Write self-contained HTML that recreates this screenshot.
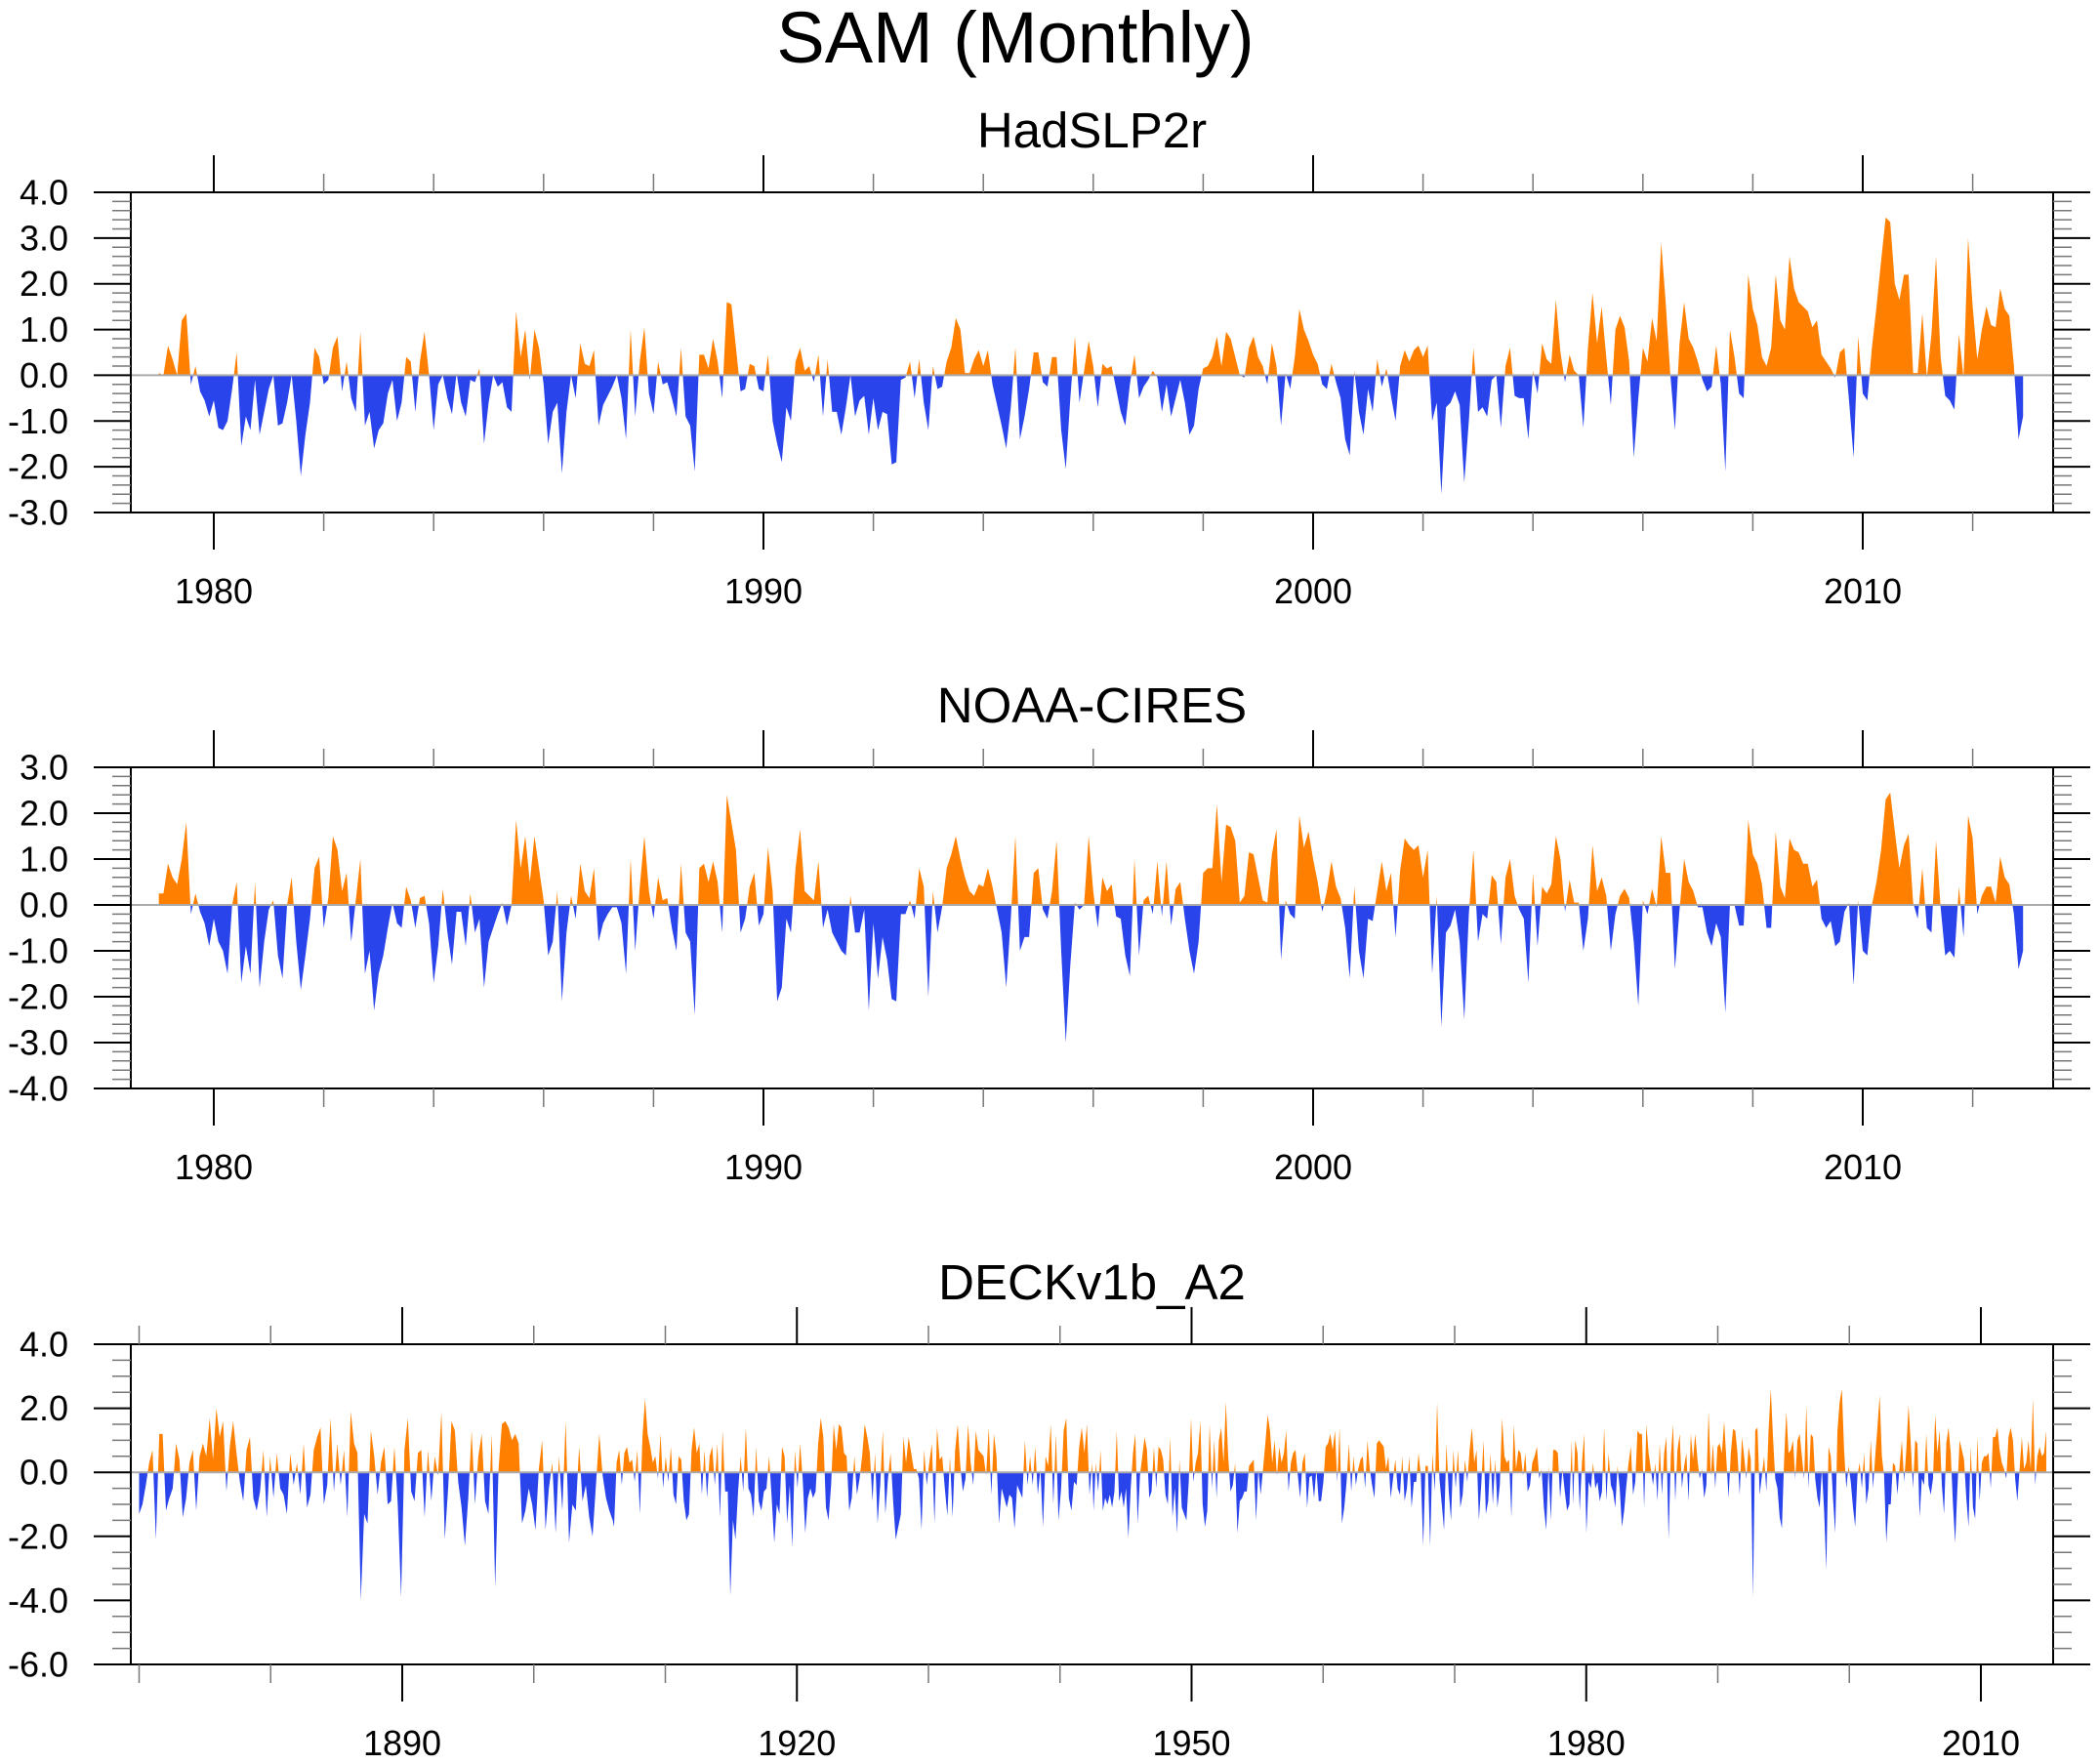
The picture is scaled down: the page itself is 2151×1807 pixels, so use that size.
<!DOCTYPE html>
<html><head><meta charset="utf-8"><title>SAM (Monthly)</title>
<style>
html,body{margin:0;padding:0;background:#fff;}
svg{display:block;}
text{font-family:"Liberation Sans",Arial,sans-serif;fill:#000;}
</style></head>
<body>
<svg id="chart" width="2151" height="1807" viewBox="0 0 2151 1807" xmlns="http://www.w3.org/2000/svg">
<rect x="0" y="0" width="2151" height="1807" fill="#fff"/>
<text x="1040" y="64" font-size="74" text-anchor="middle">SAM (Monthly)</text>
</svg>
<script>
// ---------- Data ----------
const hadStart = 1979.0;
const hadValues = [
0.05,0,0.65,0.35,0,1.2,1.35,-0.2,0.2,-0.35,
-0.55,-0.9,-0.55,-1.15,-1.2,-1.0,-0.3,0.5,-1.55,-0.9,
-1.2,-0.1,-1.3,-0.8,-0.3,0,-1.1,-1.05,-0.6,0,
-1.0,-2.2,-1.3,-0.6,0.6,0.4,-0.2,-0.1,0.6,0.85,
-0.35,0.3,-0.5,-0.8,0.95,-1.1,-0.8,-1.6,-1.2,-1.05,
-0.4,-0.1,-1.0,-0.6,0.4,0.3,-0.8,0.3,0.95,0,
-1.2,-0.2,0,-0.5,-0.85,0.05,-0.6,-0.9,-0.1,-0.15,
0.15,-1.5,-0.6,0,-0.25,-0.15,-0.7,-0.8,1.4,0.4,
1.0,-0.1,1.0,0.6,-0.2,-1.5,-0.8,-0.6,-2.15,-0.8,
0,-0.5,0.7,0.25,0.2,0.55,-1.1,-0.65,-0.45,-0.25,
0,-0.5,-1.4,1.0,-0.9,0.3,1.05,-0.4,-0.85,0.3,
-0.2,-0.15,-0.5,-0.9,0.6,-0.9,-1.1,-2.1,0.45,0.45,
0.15,0.8,0.3,-0.5,1.6,1.55,0.6,-0.35,-0.3,0.25,
0.2,-0.3,-0.35,0.45,-1.0,
-1.5,-1.9,-0.7,-1.0,0.3,0.6,0.1,0.2,-0.15,0.45,
-0.9,0.35,-0.8,-0.8,-1.3,-0.7,0,-0.9,-0.55,-0.45,
-1.3,-0.5,-1.2,-0.8,-0.85,-1.95,-1.9,-0.1,-0.05,0.3,
-0.5,0.35,-0.6,-1.2,0.2,-0.3,-0.25,0.3,0.6,1.25,
1.0,0.05,0.05,0.35,0.55,0.2,0.55,-0.2,-0.65,-1.1,
-1.6,-0.7,0.6,-1.4,-0.9,-0.3,0.5,0.5,-0.15,-0.25,
0.4,0.4,-1.2,-2.05,-0.5,0.85,-0.6,0.1,0.75,0.2,
-0.7,0.25,0.15,0.2,-0.3,-0.8,-1.1,-0.2,0.45,-0.5,
-0.25,-0.1,0.1,-0.05,-0.8,-0.2,-0.9,-0.5,-0.1,-0.6,
-1.3,-1.1,-0.3,0.15,0.2,0.4,0.85,0.2,0.95,0.8,
0.4,0,-0.05,0.6,0.85,0.4,0.2,-0.2,0.7,0.2,
-1.1,0.05,-0.3,0.4,1.45,1.0,0.75,0.45,0.25,-0.2,
-0.3,0.25,-0.15,-0.5,-1.4,-1.75,0.1,-0.8,-1.3,-0.3,
-0.8,0.35,-0.25,0.15,-0.45,-1.0,0.2,0.55,0.3,0.55,
0.65,0.4,0.65,-1.0,-0.6,-2.6,-0.7,-0.6,-0.35,-0.65,
-2.35,-1.0,0.6,-0.8,-0.7,-0.9,-0.1,0,-1.15,0.2,
0.6,-0.45,-0.5,-0.5,-1.4,0.1,-0.4,0.7,0.35,0.25,
1.65,0.5,-0.15,0.45,0.1,0,-1.15,0.6,1.8,0.7,
1.5,0.4,-0.65,1.0,1.3,1.05,0.3,-1.8,-0.5,0.6,
0.3,1.25,0.75,2.9,1.55,0,-1.2,0.7,1.6,0.8,
0.6,0.3,-0.1,-0.35,-0.25,0.65,-0.2,-2.1,1.0,0.4,
-0.4,-0.5,2.2,1.45,1.1,0.4,0.2,0.6,2.2,1.2,
1.0,2.6,1.9,1.6,1.5,1.4,1.05,1.2,0.45,0.3,
0.15,-0.05,0.5,0.6,-0.55,-1.8,0.85,-0.4,-0.55,0.6,
1.5,2.5,3.45,3.35,2.0,1.65,2.2,2.2,0.05,0.05,
1.35,-0.05,0.9,2.6,0.4,-0.45,-0.55,-0.75,0.9,-0.05,
3.0,1.5,0.35,1.0,1.5,1.1,1.05,1.9,1.45,1.3,
0.2,-1.4,-0.9];

const noaaStart = 1979.0;
const noaaValues = [
0.25,0.25,0.9,0.6,0.45,1.0,1.8,-0.2,0.25,-0.15,
-0.4,-0.9,-0.3,-0.8,-1.0,-1.5,0,0.5,-1.7,-0.9,
-1.5,0.5,-1.8,-0.8,-0.1,0.1,-1.1,-1.6,0,0.6,
-0.8,-1.85,-1.1,-0.3,0.8,1.05,-0.5,0.15,1.5,1.2,
0.3,0.7,-0.8,0.1,1.0,-1.5,-1.0,-2.3,-1.5,-1.1,
-0.5,0.05,-0.4,-0.5,0.4,0.1,-0.5,0.15,0.2,-0.4,
-1.7,-0.9,0.35,-0.6,-1.3,-0.15,-0.15,-0.9,0.25,-0.6,
-0.3,-1.8,-0.8,-0.5,-0.2,0.05,-0.45,0,1.85,0.8,
1.5,0.5,1.5,0.8,0.1,-1.1,-0.8,0.3,-2.1,-0.6,
0.2,-0.3,0.9,0.3,0.15,0.8,-0.8,-0.4,-0.2,-0.05,
-0.05,-0.4,-1.5,1.0,-1.0,0.4,1.5,0.3,-0.3,0.6,
0.1,0.15,-0.5,-1.0,0.9,-0.6,-0.8,-2.4,0.8,0.9,
0.5,0.95,0.5,-0.6,2.4,1.8,1.2,-0.6,-0.3,0.4,
0.7,-0.45,-0.2,1.25,0.3,-2.1,-1.8,-0.3,-0.6,0.8,
1.65,0.3,0.2,0.1,0.95,-0.5,-0.1,-0.6,-0.8,-1.0,
-1.1,0.2,-0.6,-0.6,-0.1,-2.3,-0.4,-1.6,-0.7,-1.2,
-2.05,-2.1,-0.2,-0.2,0.1,-0.3,0.8,0.4,-2.0,0.3,
-0.6,-0.05,0.8,1.1,1.5,1.0,0.6,0.3,0.2,0.45,
0.4,0.8,0.4,-0.1,-0.6,-1.8,-0.3,1.5,-1.0,-0.7,
-0.7,0.7,0.8,-0.1,-0.3,0.3,1.4,-1.0,-3.0,-1.3,
0.05,-0.1,0,1.5,
0.3,-0.5,0.6,0.3,0.45,-0.25,-0.3,-1.1,-1.55,1.0,
-1.1,0.1,0.2,-0.2,0.95,-0.25,0.95,-0.45,0.35,0.5,
-0.3,-1.0,-1.5,-0.8,0.7,0.8,0.8,2.2,0.5,1.75,
1.7,1.4,0.05,0.2,1.15,1.1,0.6,0.1,0.05,1.1,
1.65,-1.2,0.1,-0.2,-0.3,1.95,1.25,1.6,1.0,0.5,
-0.15,0.3,0.95,0.4,0.15,-0.5,-1.6,0.4,-1.0,-1.6,
-0.3,-0.35,0.3,0.95,0.3,0.7,-0.7,0.75,1.45,1.3,
1.2,1.3,0.6,1.2,-1.5,0.2,-2.65,-0.6,-0.45,-0.1,
-0.8,-2.5,-0.2,1.2,-0.8,-0.2,-0.3,0.65,0.5,-0.85,
0.6,1.0,0.2,-0.1,-0.3,-1.7,0.7,-0.9,0.4,0.25,
0.45,1.5,1.0,-0.15,0.55,0.05,0.05,-1.0,-0.3,1.3,
0.3,0.6,0.2,-1.0,-0.2,0.2,0.35,0.15,-0.8,-2.2,
0.1,-0.2,0.35,-0.05,1.5,0.7,0.7,-1.4,-0.1,1.0,
0.5,0.3,-0.05,-0.05,-0.6,-0.9,-0.4,-0.7,-2.35,0,
0,-0.45,-0.45,1.85,1.1,0.9,0.45,-0.5,-0.5,1.6,
0.4,0.15,1.45,1.2,1.15,0.9,0.9,0.4,0.55,-0.3,
-0.5,-0.35,-0.9,-0.8,-0.15,0.05,-1.75,0.1,-1.0,-1.1,
0,0.5,1.2,2.3,2.45,1.6,0.8,1.3,1.55,0.05,
-0.3,0.8,-0.5,-0.6,1.4,-0.05,-1.1,-1.0,-1.15,0.4,
-0.7,1.95,1.45,-0.2,0.2,0.4,0.4,0.05,1.05,0.6,
0.45,-0.2,-1.4,-1.0];

// DECKv1b_A2: four sampled segments spanning the record
const deckSegStart = [1870.0, 1906.1, 1942.55, 1979.0];
const deckSegEnd   = [1906.0, 1942.44, 1978.9, 2014.97];
const deckSeg1 = [-1.3,-1.0,-0.4,0.3,0.7,-2.1,1.2,1.2,-1.2,-0.8,
-0.5,0.9,0.4,-1.4,-0.8,0.3,0.7,-1.2,0.5,0.9,
0.5,1.7,0.4,2.0,1.1,1.6,-0.6,0.8,1.6,0.6,
-0.3,-0.9,0.7,1.1,-0.8,-1.2,-0.6,0.7,-1.4,0.5,
-0.8,0.6,-0.5,-0.7,-1.3,0.6,-0.4,0.3,-0.7,0.9,
-1.1,-0.7,0.7,1.1,1.4,-1.0,-0.4,1.7,-0.6,0.9,
-0.4,0.7,-1.4,1.9,0.9,0.6,-4.0,-1.3,-1.6,1.3,
0.5,-0.7,0.3,0.8,-1.0,-0.9,0.8,-1.0,-3.9,0.7,
1.7,-0.6,-0.9,0.6,0.7,-1.4,0.7,-0.9,0.5,-0.1,
1.9,-2.1,-0.5,1.6,1.3,-0.3,-1.1,-2.3,-0.8,1.3,
-1.0,0.5,1.2,-0.9,-1.3,1.2,-3.6,0.1,1.5,1.6,
1.4,1.0,1.2,0.9,-1.6,-1.2,-0.5,-1.0,-1.8,0.1,
1.0,-1.8,-0.5,0.3,-1.9,0.5,-1.2,1.6,-2.2,-1.0,
-1.2,0.8,-0.9,-0.4,-1.4,-2.0,-0.4,1.2,-0.1,-0.8,
-1.2,-1.5];
const deckSeg2 = [-1.7,0.3,0.7,-0.4,0.6,0.8,0.3,0.4,-0.3,0.7,
-1.3,1.1,2.3,1.2,0.8,0.3,0.5,-0.2,1.2,-0.5,
0.5,-0.3,0.8,-0.7,-1.0,0.5,0.4,-0.9,-1.5,-1.3,
0.7,1.4,0.6,0.9,-0.7,0.7,-0.8,0.5,0.8,-0.4,
0.9,-1.4,1.3,-0.6,-0.6,-3.85,-1.5,-2.1,-0.6,0.5,
-0.6,1.4,-0.5,-0.7,-1.4,0.8,-0.9,-1.2,-0.6,-0.5,
0.5,-0.8,-2.2,-1.0,-1.3,0.8,0.5,-1.6,-0.4,-2.35,
0.7,-0.5,0.9,-0.2,-1.9,-0.8,-0.5,-0.8,-0.6,0.9,
1.7,1.1,-1.1,-1.5,-0.4,1.5,0.7,1.5,1.4,0.6,
0.5,-1.2,-0.8,0.5,-0.7,-0.2,0.5,1.5,1.1,0.6,
-0.9,0.6,-1.6,-0.4,1.3,-1.3,-0.2,0.6,-0.9,-2.1,
-1.7,-1.3,1.1,0.3,1.1,0.6,0.1,0.1,-0.2,-1.8,
0.7,-0.4,0.3,0.9,-1.6,1.4,0.4,0.5,-0.5,-1.35,
0.5,-1.4,0.7,1.5,0.2,-0.6,-0.2,1.5,0.3,-0.4,
1.3,0.7,0.6,0.5,-0.1,1.4,-0.7,1.2,0.5,-1.6,
-0.5,-0.8,-1.1,-0.7,-0.8,-1.75,-0.4,-0.6,-0.8,1.0,
-0.4,0.5,-0.4,0.8,-0.7,0.1,-1.7,0.5,0.2,1.5,
-1.0,1.2,-1.5,-0.5,1.3,1.7,-0.8,-1.2,-0.3,-0.4,
0.8,1.4,0.6,1.5,-0.7,0.3];
const deckSeg3 = [-1.2,0.3,-0.6,0.7,-1.2,-0.8,-1.0,-0.7,-1.1,-0.6,
1.3,-0.9,-0.6,-1.1,-0.5,-2.05,-0.5,0.6,1.2,-1.6,
-0.1,0.5,1.1,0.7,-0.8,-0.6,0.8,-0.5,0.8,0.7,
0.4,-0.7,-1.0,1.1,-1.4,-0.5,-1.9,0.4,-1.1,-1.3,
-1.5,-0.3,1.7,-0.3,0.3,0.6,1.6,-1.0,-1.7,-1.2,
1.5,-0.5,1.0,-0.8,1.0,1.4,0.3,2.2,0.5,-0.6,
-0.4,0.3,-1.9,-0.9,-0.8,-0.6,-0.6,0.2,0.3,0.4,
-1.5,0.1,-0.7,0.1,0.9,1.8,1.3,0.3,1.0,-0.1,
0.8,0.3,0.6,1.3,-0.6,0.3,0.6,0.7,-0.1,-0.8,
0.3,0.6,-1.1,-0.15,-0.1,-0.8,0.1,-0.9,-0.9,-0.3,
0.8,0.9,1.2,0.7,1.3,-0.3,1.4,-1.6,-1.1,-0.3,
0.9,-0.6,0.5,-0.4,0.1,0.4,0.5,-0.5,1.0,0.1,
-0.4,-0.8,0.9,1.0,0.9,0.8,0.1,0.5,-0.8,-0.2,
0.4,-0.5,-0.7,0.5,-0.9,-0.5,0.5,-1.1,-0.3,-0.3,
0.6,-0.1,-2.3,0.2,0.2,-2.3,0.6,-0.6,2.2,-0.2,
-1.0,-1.8,0.9,-0.6,-1.5,0.7,-0.5,0.7,-1.1,-0.7,
0.4,-0.3,0.7,1.4,0.3,0.7,-1.5,-0.4,1.0,-1.3,
-0.9,0.6,-1.0,0.4,-1.1,-0.4,1.7,0.5,0.3,0.4,
-1.4,1.5,0.1,0.7,0.6,-0.1,0.6,-0.6,-0.4,0.3,
0.5,0.8,-0.2,0.1,-1.1,-1.8,0.2,-1.5,0.7,0.7,
0.6,-0.8,0.1,-0.6,-1.2,-1.0,1.0];
const deckSeg4 = [-1.0,1.0,0.6,-1.2,0.3,1.2,-1.9,-0.3,-0.5,0.3,
-0.5,-0.3,-0.9,-0.6,1.4,-0.9,0.6,-0.4,-0.6,-1.1,
0.2,-0.5,-1.7,-1.2,-0.4,0.3,0.8,-0.7,-0.3,1.3,
1.2,1.2,-1.1,1.5,0.6,0.1,-0.4,0.3,-0.9,0.9,
-0.7,0.6,1.1,-2.1,0.5,1.5,-0.9,0.7,1.2,-0.5,
0.2,0.6,-0.9,1.2,0.4,1.2,0.4,-0.2,0.1,-0.8,
-0.4,1.9,-0.1,0.9,-0.5,0.8,0.9,0.6,1.6,0.4,
-0.8,0.6,1.35,1.3,0.6,-0.7,1.1,0.5,-0.2,0.8,
0.4,-3.9,1.3,1.4,-0.7,-0.1,0.5,-0.6,1.3,2.6,
1.1,-0.2,-0.5,-1.4,-1.75,0.4,1.9,0.6,0.7,1.0,
-0.2,1.0,1.2,0.5,-0.2,2.1,-0.5,1.2,1.1,-0.2,
-0.8,-1.1,0.1,-1.2,-3.05,0.8,0.5,-0.8,-1.9,1.3,
2.2,2.6,0.7,-0.5,0.2,-0.3,-1.1,-1.7,-0.1,0.3,
-0.5,0.6,-1.0,-0.5,1.0,-0.5,0.5,1.4,2.4,0.5,
-0.1,-2.2,-1.0,-1.0,0.3,0.2,-0.7,0.2,1.0,-0.3,
0.7,2.1,0.9,-0.5,1.0,0.9,-1.4,-0.2,-0.4,1.2,
-0.4,-0.7,-0.2,1.8,0.6,1.3,-0.4,-1.3,0.9,1.4,
0.6,-1.0,-2.2,-0.5,1.0,0.7,0.4,-0.8,-1.7,0.8,
-1.1,-1.45,1.1,-0.9,0.3,0.5,0.5,0.6,-0.5,1.1,
1.1,1.4,0.7,0.3,0.1,-0.2,1.1,1.4,1.0,-0.2,
-0.9,0.1,1.1,0.1,0.3,1.0,0.1,2.3,-0.4,0.5,
0.8,0.5,0.6,1.3];

const subTitles = ["HadSLP2r","NOAA-CIRES","DECKv1b_A2"];
const yTicks1 = [4.0,3.0,2.0,1.0,0.0,-1.0,-2.0,-3.0];
const yTicks2 = [3.0,2.0,1.0,0.0,-1.0,-2.0,-3.0,-4.0];
const yTicks3 = [4.0,2.0,0.0,-2.0,-4.0,-6.0];
const xTicksModern = [1980,1990,2000,2010];
const xTicksLong = [1890,1920,1950,1980,2010];

// ---------- Drawing ----------
const NS = "http://www.w3.org/2000/svg";
const svg = document.getElementById("chart");
const ORANGE = "#ff8000", BLUE = "#2a44ec";
function mk(tag, attrs, parent){
  const e = document.createElementNS(NS, tag);
  for (const k in attrs) e.setAttribute(k, attrs[k]);
  (parent || svg).appendChild(e);
  return e;
}

function drawPanel(p, idx){
  const L = 134, R = 2103;
  const g = mk("g", {});
  
  
  const yS = v => p.top + (p.ymax - v) * (p.bottom - p.top) / (p.ymax - p.ymin);
  const xS = p.xS;
  const y0 = yS(0);

  const st = mk("text", {x: (L+R)/2, y: p.top - 46, "font-size": 51, "text-anchor": "middle"}, g);
  st.textContent = subTitles[idx];
  
  

  const pts = p.points;
  let d = "M" + xS(pts[0][0]).toFixed(2) + "," + y0.toFixed(2);
  for (const q of pts) d += " L" + xS(q[0]).toFixed(2) + "," + yS(q[1]).toFixed(2);
  d += " L" + xS(pts[pts.length-1][0]).toFixed(2) + "," + y0.toFixed(2) + " Z";
  const cidA = "clipA" + idx, cidB = "clipB" + idx;
  const defs = mk("defs", {}, g);
  const ca = mk("clipPath", {id: cidA}, defs);
  mk("rect", {x: L, y: p.top, width: R-L, height: y0 - p.top}, ca);
  const cb = mk("clipPath", {id: cidB}, defs);
  mk("rect", {x: L, y: y0, width: R-L, height: p.bottom - y0}, cb);
  const pos = mk("path", {d: d, fill: ORANGE, "clip-path": "url(#"+cidA+")"}, g);
  
  
  const neg = mk("path", {d: d, fill: BLUE, "clip-path": "url(#"+cidB+")"}, g);
  
  

  const zl = mk("line", {x1: L, x2: R, y1: y0, y2: y0, stroke: "#aaa", "stroke-width": 2}, g);
  
  

  const fr = mk("rect", {x: L, y: p.top, width: R-L, height: p.bottom-p.top, fill: "none", stroke: "#000", "stroke-width": 2}, g);
  
  

  for (let v = p.ymin; v <= p.ymax + 1e-9; v += p.yMinor){
    const y = yS(v);
    const major = Math.abs(v/p.yMajor - Math.round(v/p.yMajor)) < 1e-6;
    const len = major ? 38 : 19;
    mk("line", {x1: L-len, x2: L, y1: y, y2: y, stroke: major?"#000":"#777", "stroke-width": major?2:1.5}, g);
    mk("line", {x1: R, x2: R+len, y1: y, y2: y, stroke: major?"#000":"#777", "stroke-width": major?2:1.5}, g);
  }
  const yAxis = mk("g", {}, g);
  
  
  for (const v of p.yTicks){
    const t = mk("text", {x: 70, y: yS(v) + 12.5, "font-size": 36, "text-anchor": "end"}, yAxis);
    t.textContent = v.toFixed(1);
    
    
  }

  for (let yr = p.xMinorStart; yr <= p.xMinorEnd; yr += p.xMinor){
    const x = xS(yr);
    if (x < L - 1 || x > R + 1) continue;
    const major = p.xTicks.indexOf(yr) >= 0;
    const len = major ? 38 : 19;
    mk("line", {x1: x, x2: x, y1: p.top - len, y2: p.top, stroke: major?"#000":"#777", "stroke-width": major?2:1.5}, g);
    mk("line", {x1: x, x2: x, y1: p.bottom, y2: p.bottom + len, stroke: major?"#000":"#777", "stroke-width": major?2:1.5}, g);
  }
  const xAxis = mk("g", {}, g);
  
  
  for (const yr of p.xTicks){
    const t = mk("text", {x: xS(yr), y: p.bottom + 93, "font-size": 36, "text-anchor": "middle"}, xAxis);
    t.textContent = String(yr);
    
    
  }
}

const xModern = t => 219 + (t - 1980) * 56.3;
const xLong = t => 412 + (t - 1890) * 13.475;

function monthly(start, vals){ return vals.map((v,i) => [start + i/12, v]); }
function segs(){
  const segList = [deckSeg1, deckSeg2, deckSeg3, deckSeg4];
  const out = [];
  segList.forEach((arr, s) => {
    const a = deckSegStart[s], b = deckSegEnd[s];
    arr.forEach((v, j) => out.push([a + (b - a) * j / (arr.length - 1), v]));
  });
  return out;
}

drawPanel({top:197, bottom:525, ymin:-3, ymax:4, yMajor:1, yMinor:0.2, yTicks:yTicks1,
  xS:xModern, xTicks:xTicksModern, xMinor:2, xMinorStart:1978, xMinorEnd:2014,
  points: monthly(hadStart, hadValues)}, 0);
drawPanel({top:786, bottom:1115, ymin:-4, ymax:3, yMajor:1, yMinor:0.2, yTicks:yTicks2,
  xS:xModern, xTicks:xTicksModern, xMinor:2, xMinorStart:1978, xMinorEnd:2014,
  points: monthly(noaaStart, noaaValues)}, 1);
drawPanel({top:1377, bottom:1705, ymin:-6, ymax:4, yMajor:2, yMinor:0.5, yTicks:yTicks3,
  xS:xLong, xTicks:xTicksLong, xMinor:10, xMinorStart:1870, xMinorEnd:2010,
  points: segs()}, 2);
</script>
</body></html>
